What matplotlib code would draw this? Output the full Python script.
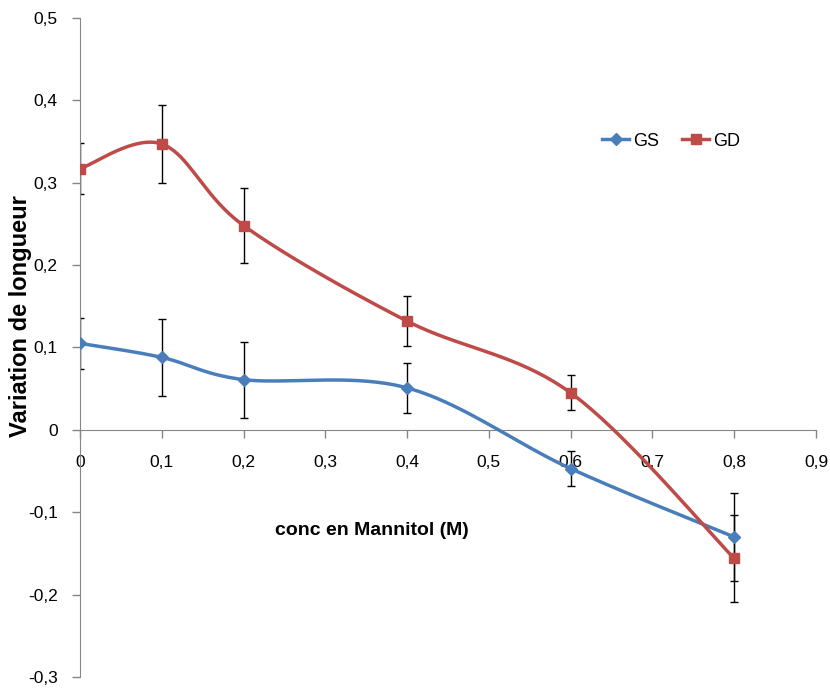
import numpy as np
import matplotlib as mpl
import matplotlib.pyplot as plt
from matplotlib.ticker import FuncFormatter

plt.rcParams.update(
    {
        "font.family": ["Liberation Sans", "DejaVu Sans"],
        "font.size": 12.5,
        "axes.edgecolor": "#868686",
        "xtick.color": "#868686",
        "ytick.color": "#868686",
        "xtick.labelcolor": "black",
        "ytick.labelcolor": "black",
    }
)

conc = [0, 0.1, 0.2, 0.4, 0.6, 0.8]
gs = [0.105, 0.088, 0.061, 0.051, -0.047, -0.130]
gs_err = [0.031, 0.047, 0.046, 0.030, 0.021, 0.053]
gd = [0.317, 0.347, 0.248, 0.132, 0.045, -0.156]
gd_err = [0.031, 0.047, 0.046, 0.030, 0.021, 0.053]

x_ticks = [0, 0.1, 0.2, 0.3, 0.4, 0.5, 0.6, 0.7, 0.8, 0.9]
y_ticks = [-0.3, -0.2, -0.1, 0, 0.1, 0.2, 0.3, 0.4, 0.5]


def smooth(xs, ys, n=40):
    # Excel-like smoothed line (Catmull-Rom as cubic Bezier segments)
    p = np.column_stack([xs, ys]).astype(float)
    p = np.vstack([p[0], p, p[-1]])
    out = []
    for i in range(1, len(p) - 2):
        p0, p1, p2, p3 = p[i - 1], p[i], p[i + 1], p[i + 2]
        c1 = p1 + (p2 - p0) / 6
        c2 = p2 - (p3 - p1) / 6
        t = np.linspace(0, 1, n)[:, None]
        seg = ((1 - t) ** 3) * p1 + 3 * ((1 - t) ** 2) * t * c1 + 3 * (1 - t) * t**2 * c2 + t**3 * p2
        out.append(seg if i == 1 else seg[1:])
    out = np.vstack(out)
    return out[:, 0], out[:, 1]


fig = plt.figure(figsize=(8.3, 6.9), dpi=100)
ax = fig.add_axes([0.0964, 0.0188, 0.8867, 0.9552])

series = [
    ("GS", gs, gs_err, "#4A7EBB", "D", 6),
    ("GD", gd, gd_err, "#BE4B48", "s", 7),
]
for name, ys, err, col, mk, ms in series:
    ax.errorbar(conc, ys, yerr=err, fmt="none", ecolor="black", elinewidth=1, capsize=3, capthick=1, zorder=2)
    sx, sy = smooth(conc, ys)
    ax.plot(sx, sy, color=col, linewidth=2.5, zorder=3)
    ax.plot(conc, ys, linestyle="none", marker=mk, markersize=ms, color=col, zorder=4)
    ax.plot([], [], color=col, linewidth=2.5, marker=mk, markersize=ms, label=name)

ax.set_xlim(0, 0.9)
ax.set_ylim(-0.3, 0.5)
ax.set_xticks(x_ticks)
ax.set_yticks(y_ticks)

fmt = FuncFormatter(lambda v, pos: ("%g" % round(v, 2)).replace(".", ","))
ax.xaxis.set_major_formatter(fmt)
ax.yaxis.set_major_formatter(fmt)

ax.spines["top"].set_visible(False)
ax.spines["right"].set_visible(False)
ax.spines["bottom"].set_position(("data", 0))
ax.tick_params(axis="both", direction="out", length=6, width=1)
ax.tick_params(axis="x", pad=12)
ax.tick_params(axis="y", pad=10)

ax.set_ylabel("Variation de longueur", fontweight="bold", fontsize=17)
ax.yaxis.set_label_coords(-0.065, 0.548)
ax.set_xlabel("conc en Mannitol (M)", fontweight="bold", fontsize=14)
ax.xaxis.set_label_coords(0.397, 0.235)

ax.legend(
    loc="center", bbox_to_anchor=(0.803, 0.813), ncol=2, frameon=False,
    handlelength=1.5, handletextpad=0.2, columnspacing=1.3, fontsize=13,
)

fig.savefig("out.png", dpi=100)
